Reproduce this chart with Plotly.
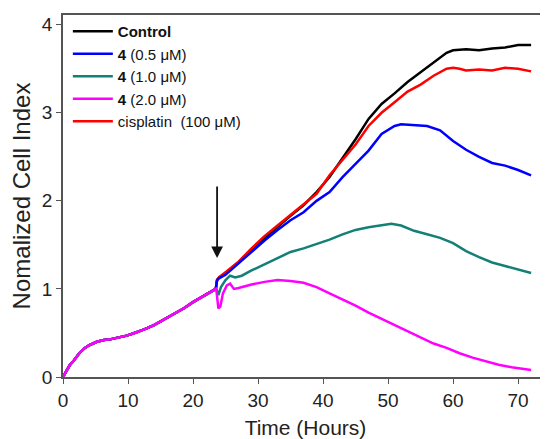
import plotly.graph_objects as go

# shared growth phase before treatment (all wells alike)
t_base = [0, 0.5, 1, 1.7, 2.5, 3.2, 4, 5.2, 6.3, 7.4, 8.6, 9.8, 11, 12.5, 14,
          15.5, 17, 18.6, 20, 21.2, 22.2, 23, 23.5]
v_base = [0, 0.07, 0.13, 0.19, 0.27, 0.32, 0.36, 0.4, 0.42, 0.43, 0.45, 0.47,
          0.5, 0.54, 0.59, 0.65, 0.71, 0.78, 0.85, 0.9, 0.94, 0.98, 1.0]

t_ctrl = [23.7, 24, 25, 27, 29, 31, 33, 35, 37, 39, 41, 43, 45, 47, 49, 51, 53,
          55, 57, 59, 60, 62, 64, 66, 68, 70, 72]
v_ctrl = [1.10, 1.13, 1.18, 1.30, 1.45, 1.58, 1.70, 1.83, 1.95, 2.10, 2.27, 2.48,
          2.70, 2.93, 3.10, 3.22, 3.35, 3.46, 3.57, 3.68, 3.71, 3.72, 3.71, 3.73,
          3.74, 3.77, 3.77]

t_cis = [23.7, 24, 25, 27, 29, 31, 33, 35, 37, 39, 41, 43, 45, 47, 49, 51, 53,
         55, 57, 59, 60, 61, 62, 64, 66, 68, 70, 72]
v_cis = [1.10, 1.13, 1.19, 1.31, 1.46, 1.60, 1.72, 1.84, 1.96, 2.08, 2.29, 2.46,
         2.64, 2.85, 3.00, 3.12, 3.24, 3.32, 3.42, 3.50, 3.51, 3.50, 3.48, 3.49,
         3.48, 3.51, 3.50, 3.47]

t_05 = [23.7, 24, 25, 27, 29, 31, 33, 35, 37, 39, 41, 43, 45, 47, 49, 51, 52,
        54, 56, 58, 60, 62, 64, 66, 68, 70, 72]
v_05 = [1.10, 1.12, 1.16, 1.29, 1.43, 1.55, 1.67, 1.78, 1.87, 2.00, 2.10, 2.27,
        2.42, 2.57, 2.76, 2.85, 2.87, 2.86, 2.85, 2.80, 2.68, 2.58, 2.50, 2.43,
        2.40, 2.35, 2.29]

t_10 = [23.6, 23.9, 24.3, 25, 25.7, 26.5, 27.5, 29, 31, 33, 35, 37, 39, 41, 43,
        45, 47, 49, 50.5, 52, 54, 56, 58, 60, 62, 64, 66, 68, 70, 72]
v_10 = [1.00, 0.93, 1.02, 1.10, 1.15, 1.13, 1.15, 1.21, 1.28, 1.35, 1.42, 1.46,
        1.51, 1.56, 1.62, 1.67, 1.70, 1.72, 1.74, 1.72, 1.66, 1.62, 1.58, 1.52,
        1.43, 1.36, 1.30, 1.26, 1.22, 1.18]

t_20 = [23.6, 23.9, 24.2, 24.6, 25.2, 25.7, 26.3, 27, 29, 31, 33, 35, 37, 39,
        41, 43, 45, 47, 49, 51, 53, 55, 57, 59, 61, 63, 65, 67, 69, 71, 72]
v_20 = [0.98, 0.78, 0.80, 0.95, 1.04, 1.06, 1.00, 1.01, 1.05, 1.08, 1.10, 1.09,
        1.07, 1.02, 0.95, 0.88, 0.81, 0.73, 0.66, 0.59, 0.52, 0.45, 0.38, 0.33,
        0.27, 0.22, 0.18, 0.14, 0.11, 0.09, 0.08]

# name, times, values, colour, legend rank (draw order differs from legend order)
series = [
    ("<b>Control</b>", t_ctrl, v_ctrl, "#000000", 1),
    ("cisplatin  (100 \u03bcM)", t_cis, v_cis, "#ff0000", 5),
    ("<b>4</b> (0.5 \u03bcM)", t_05, v_05, "#0000ff", 2),
    ("<b>4</b> (1.0 \u03bcM)", t_10, v_10, "#138077", 3),
    ("<b>4</b> (2.0 \u03bcM)", t_20, v_20, "#ff00ff", 4),
]

fig = go.Figure()
for name, tt, vv, col, rank in series:
    fig.add_trace(go.Scatter(x=t_base + tt, y=v_base + vv, mode="lines",
                             name=name, legendrank=rank,
                             line=dict(color=col, width=2.5)))

# page body has an 8px margin, so the figure is made 8px smaller
font = "Arial, Liberation Sans, sans-serif"
fig.update_layout(
    width=540, height=431,
    margin=dict(l=55, r=0, t=7, b=62),
    paper_bgcolor="white", plot_bgcolor="white",
    font=dict(family=font, color="#222"),
    legend=dict(x=0.01, y=1.0, xanchor="left", yanchor="top",
                font=dict(size=15, color="#111"), bgcolor="rgba(0,0,0,0)",
                itemwidth=40, tracegroupgap=0),
    xaxis=dict(range=[0, 74.6], tickvals=[0, 10, 20, 30, 40, 50, 60, 70],
               showgrid=False, zeroline=False, showline=True, mirror=True,
               linecolor="#555", linewidth=1.5, ticks="outside", ticklen=5,
               tickcolor="#555", tickfont=dict(size=19), automargin=False,
               title=dict(text="Time (Hours)", font=dict(size=21), standoff=11)),
    yaxis=dict(range=[0, 4.11], tickvals=[0, 1, 2, 3, 4],
               showgrid=False, zeroline=False, showline=True, mirror=True,
               linecolor="#555", linewidth=1.5, ticks="outside", ticklen=5,
               tickcolor="#555", tickfont=dict(size=19), automargin=False,
               title=dict(text="Nomalized Cell Index", font=dict(size=24),
                          standoff=6)),
)

# treatment arrow
fig.add_annotation(x=23.7, y=1.35, ax=23.7, ay=2.18, xref="x", yref="y",
                   axref="x", ayref="y", text="", showarrow=True,
                   arrowhead=2, arrowsize=1.3, arrowwidth=1.8,
                   arrowcolor="#111")

fig.write_html("out.html")
